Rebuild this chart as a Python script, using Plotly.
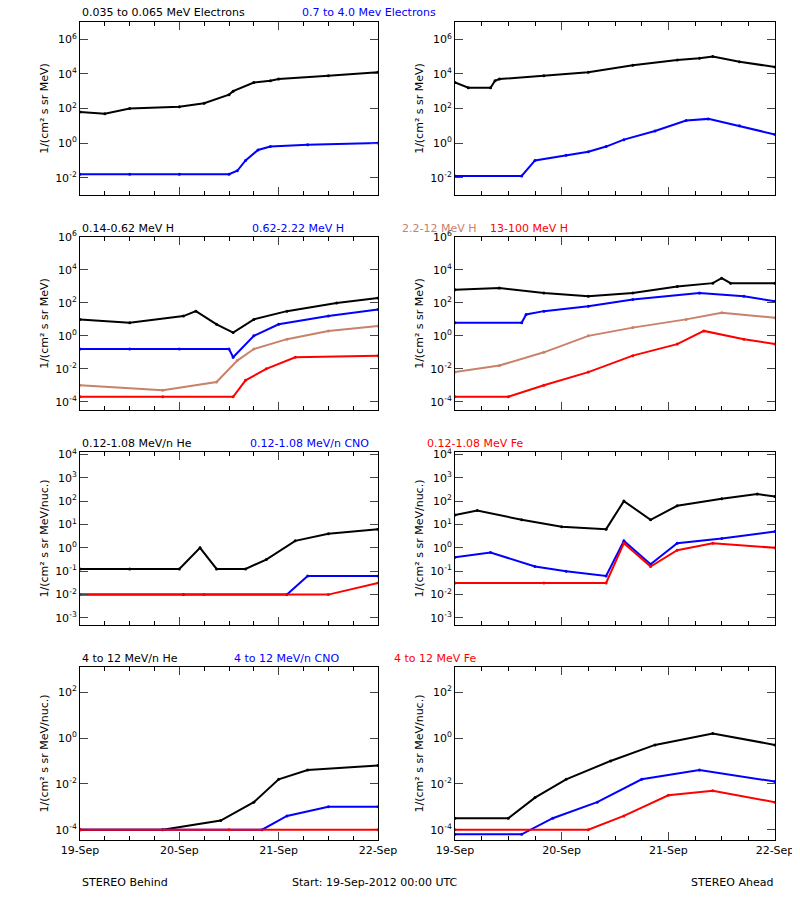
import plotly.graph_objects as go
from datetime import datetime, timedelta

START = datetime(2012, 9, 19)
# hours since start, log10 flux values
# Row 1 electrons
e_lo_B_h = [0, 6, 12, 24, 30, 36, 37, 42, 46, 48, 60, 72]
e_lo_B = [1.8, 1.7, 2.0, 2.1, 2.3, 2.8, 3.0, 3.5, 3.6, 3.7, 3.9, 4.1]
e_hi_B_h = [0, 12, 24, 36, 38, 40, 43, 46, 55, 72]
e_hi_B = [-1.8, -1.8, -1.8, -1.8, -1.6, -1.0, -0.4, -0.2, -0.1, 0.0]
e_lo_A_h = [0, 3, 8, 9, 10, 20, 30, 40, 50, 55, 58, 64, 72]
e_lo_A = [3.5, 3.2, 3.2, 3.6, 3.7, 3.9, 4.1, 4.5, 4.8, 4.9, 5.0, 4.7, 4.4]
e_hi_A_h = [0, 15, 18, 25, 30, 34, 38, 45, 52, 57, 64, 72]
e_hi_A = [-1.9, -1.9, -1.0, -0.7, -0.5, -0.2, 0.2, 0.7, 1.3, 1.4, 1.0, 0.5]
# Row 2 protons
h1_B_h = [0, 12, 25, 28, 33, 37, 42, 50, 62, 72]
h1_B = [1.0, 0.8, 1.2, 1.5, 0.7, 0.2, 1.0, 1.5, 2.0, 2.3]
h2_B_h = [0, 12, 24, 36, 37, 42, 48, 60, 72]
h2_B = [-0.8, -0.8, -0.8, -0.8, -1.3, 0.0, 0.7, 1.2, 1.6]
h3_B_h = [0, 20, 33, 38, 42, 50, 60, 72]
h3_B = [-3.0, -3.3, -2.8, -1.5, -0.8, -0.2, 0.3, 0.6]
h4_B_h = [0, 20, 37, 40, 45, 52, 72]
h4_B = [-3.7, -3.7, -3.7, -2.7, -2.0, -1.3, -1.2]
h1_A_h = [0, 10, 20, 30, 40, 50, 58, 60, 62, 72]
h1_A = [2.8, 2.9, 2.6, 2.4, 2.6, 3.0, 3.2, 3.5, 3.2, 3.2]
h2_A_h = [0, 15, 16, 20, 30, 40, 55, 65, 72]
h2_A = [0.8, 0.8, 1.3, 1.5, 1.8, 2.2, 2.6, 2.4, 2.1]
h3_A_h = [0, 10, 20, 30, 40, 52, 60, 72]
h3_A = [-2.2, -1.8, -1.0, 0.0, 0.5, 1.0, 1.4, 1.1]
h4_A_h = [0, 12, 20, 30, 40, 50, 56, 65, 72]
h4_A = [-3.7, -3.7, -3.0, -2.2, -1.2, -0.5, 0.3, -0.2, -0.5]
# Row 3 low-energy heavy ions
he_B_h = [0, 12, 24, 29, 33, 40, 45, 52, 60, 72]
he_B = [-0.9, -0.9, -0.9, 0.0, -0.9, -0.9, -0.5, 0.3, 0.6, 0.8]
cno_B_h = [0, 25, 50, 55, 72]
cno_B = [-2.0, -2.0, -2.0, -1.2, -1.2]
fe_B_h = [0, 30, 60, 72]
fe_B = [-2.0, -2.0, -2.0, -1.5]
he_A_h = [0, 5, 15, 24, 34, 38, 44, 50, 60, 68, 72]
he_A = [1.4, 1.6, 1.2, 0.9, 0.8, 2.0, 1.2, 1.8, 2.1, 2.3, 2.2]
cno_A_h = [0, 8, 18, 25, 34, 38, 44, 50, 60, 72]
cno_A = [-0.4, -0.2, -0.8, -1.0, -1.2, 0.3, -0.7, 0.2, 0.4, 0.7]
fe_A_h = [0, 20, 34, 38, 44, 50, 58, 72]
fe_A = [-1.5, -1.5, -1.5, 0.2, -0.8, -0.1, 0.2, 0.0]
# Row 4 high-energy heavy ions
he4_B_h = [0, 20, 34, 42, 48, 55, 72]
he4_B = [-4.0, -4.0, -3.6, -2.8, -1.8, -1.4, -1.2]
cno4_B_h = [0, 44, 50, 60, 72]
cno4_B = [-4.0, -4.0, -3.4, -3.0, -3.0]
fe4_B_h = [0, 36, 72]
fe4_B = [-4.0, -4.0, -4.0]
he4_A_h = [0, 12, 18, 25, 35, 45, 58, 72]
he4_A = [-3.5, -3.5, -2.6, -1.8, -1.0, -0.3, 0.2, -0.3]
cno4_A_h = [0, 15, 22, 32, 42, 55, 72]
cno4_A = [-4.2, -4.2, -3.5, -2.8, -1.8, -1.4, -1.9]
fe4_A_h = [0, 30, 38, 48, 58, 72]
fe4_A = [-4.0, -4.0, -3.4, -2.5, -2.3, -2.8]
day_labels = ["19-Sep", "20-Sep", "21-Sep", "22-Sep"]

BROWN = "#c8826a"
rows = [
    ([(e_lo_B_h, e_lo_B, "black"), (e_hi_B_h, e_hi_B, "blue")],
     [(e_lo_A_h, e_lo_A, "black"), (e_hi_A_h, e_hi_A, "blue")], [-3, 7], [-2, 0, 2, 4, 6], "1/(cm² s sr MeV)"),
    ([(h1_B_h, h1_B, "black"), (h2_B_h, h2_B, "blue"), (h3_B_h, h3_B, BROWN), (h4_B_h, h4_B, "red")],
     [(h1_A_h, h1_A, "black"), (h2_A_h, h2_A, "blue"), (h3_A_h, h3_A, BROWN), (h4_A_h, h4_A, "red")],
     [-4.5, 6], [-4, -2, 0, 2, 4, 6], "1/(cm² s sr MeV)"),
    ([(he_B_h, he_B, "black"), (cno_B_h, cno_B, "blue"), (fe_B_h, fe_B, "red")],
     [(he_A_h, he_A, "black"), (cno_A_h, cno_A, "blue"), (fe_A_h, fe_A, "red")],
     [-3.3, 4.1], [-3, -2, -1, 0, 1, 2, 3, 4], "1/(cm² s sr MeV/nuc.)"),
    ([(he4_B_h, he4_B, "black"), (cno4_B_h, cno4_B, "blue"), (fe4_B_h, fe4_B, "red")],
     [(he4_A_h, he4_A, "black"), (cno4_A_h, cno4_A, "blue"), (fe4_A_h, fe4_A, "red")],
     [-4.45, 3.1], [-4, -2, 0, 2], "1/(cm² s sr MeV/nuc.)"),
]
titles = [
    [("0.035 to 0.065 MeV Electrons", "black"), ("0.7 to 4.0 Mev Electrons", "blue")],
    [("0.14-0.62 MeV H", "black"), ("0.62-2.22 MeV H", "blue"), ("2.2-12 MeV H", BROWN), ("13-100 MeV H", "red")],
    [("0.12-1.08 MeV/n He", "black"), ("0.12-1.08 MeV/n CNO", "blue"), ("0.12-1.08 MeV Fe", "red")],
    [("4 to 12 MeV/n He", "black"), ("4 to 12 MeV/n CNO", "blue"), ("4 to 12 MeV Fe", "red")],
]
title_x = [[80, 300], [80, 250, 400, 488], [80, 248, 425], [80, 232, 392]]

OFF = 8  # page body margin
W, HT = 800, 900
def px(x): return (x - OFF) / W
def py(y): return 1 - (y - OFF) / HT

xdom = [[px(80), px(378)], [px(455), px(775)]]
ytops = [22, 237, 452, 667]
H = 173
fig = go.Figure()
ann = []
font = dict(family="DejaVu Sans", size=11, color="black")
n = 0
for r, (left, right, yr, yt, ytitle) in enumerate(rows):
    for c, series in enumerate([left, right]):
        n += 1
        xa = "x" if n == 1 else f"x{n}"
        ya = "y" if n == 1 else f"y{n}"
        for hrs, vals, col in series:
            fig.add_trace(go.Scatter(
                x=[START + timedelta(hours=h) for h in hrs], y=[10 ** v for v in vals],
                mode="lines+markers", line=dict(color=col, width=2), marker=dict(size=3, color=col),
                xaxis=xa, yaxis=ya, showlegend=False))
        top = ytops[r]
        kx = "xaxis" if n == 1 else f"xaxis{n}"
        ky = "yaxis" if n == 1 else f"yaxis{n}"
        fig.layout[kx] = dict(domain=xdom[c], anchor=ya, type="date", automargin=False,
                              range=[START, START + timedelta(days=3)],
                              tickvals=[START + timedelta(days=d) for d in range(4)],
                              ticktext=day_labels,
                              showticklabels=(r == 3), ticks="inside", ticklen=8,
                              minor=dict(dtick=6 * 3600000, ticks="inside", ticklen=4, tickcolor="black"),
                              showline=True, mirror="ticks", linecolor="black", showgrid=False,
                              tickfont=font, zeroline=False)
        fig.layout[ky] = dict(domain=[py(top + H), py(top)], anchor=xa, type="log",
                              automargin=False, range=yr,
                              tickvals=[10 ** e for e in yt],
                              ticktext=[f"10<sup>{e}</sup>" for e in yt],
                              ticks="inside", ticklen=8, showline=True, mirror="ticks",
                              linecolor="black", showgrid=False, tickfont=font,
                              title=dict(text=ytitle, font=font, standoff=4))
    for (txt, col), x0 in zip(titles[r], title_x[r]):
        ann.append(dict(text=txt, x=px(x0), y=py(ytops[r] - 9), xref="paper", yref="paper",
                        xanchor="left", yanchor="middle", showarrow=False,
                        font=dict(family="DejaVu Sans", size=11, color=col)))
for txt, x0, anc in [("STEREO Behind", 80, "left"), ("Start: 19-Sep-2012 00:00 UTC", 290, "left"),
                     ("STEREO Ahead", 775, "right")]:
    ann.append(dict(text=txt, x=px(x0), y=py(882), xref="paper", yref="paper",
                    xanchor=anc, yanchor="middle", showarrow=False, font=font))
fig.update_layout(width=W, height=HT, margin=dict(l=0, r=0, t=0, b=0, autoexpand=False),
                  plot_bgcolor="white", paper_bgcolor="white", annotations=ann)
fig.write_html("out.html")
